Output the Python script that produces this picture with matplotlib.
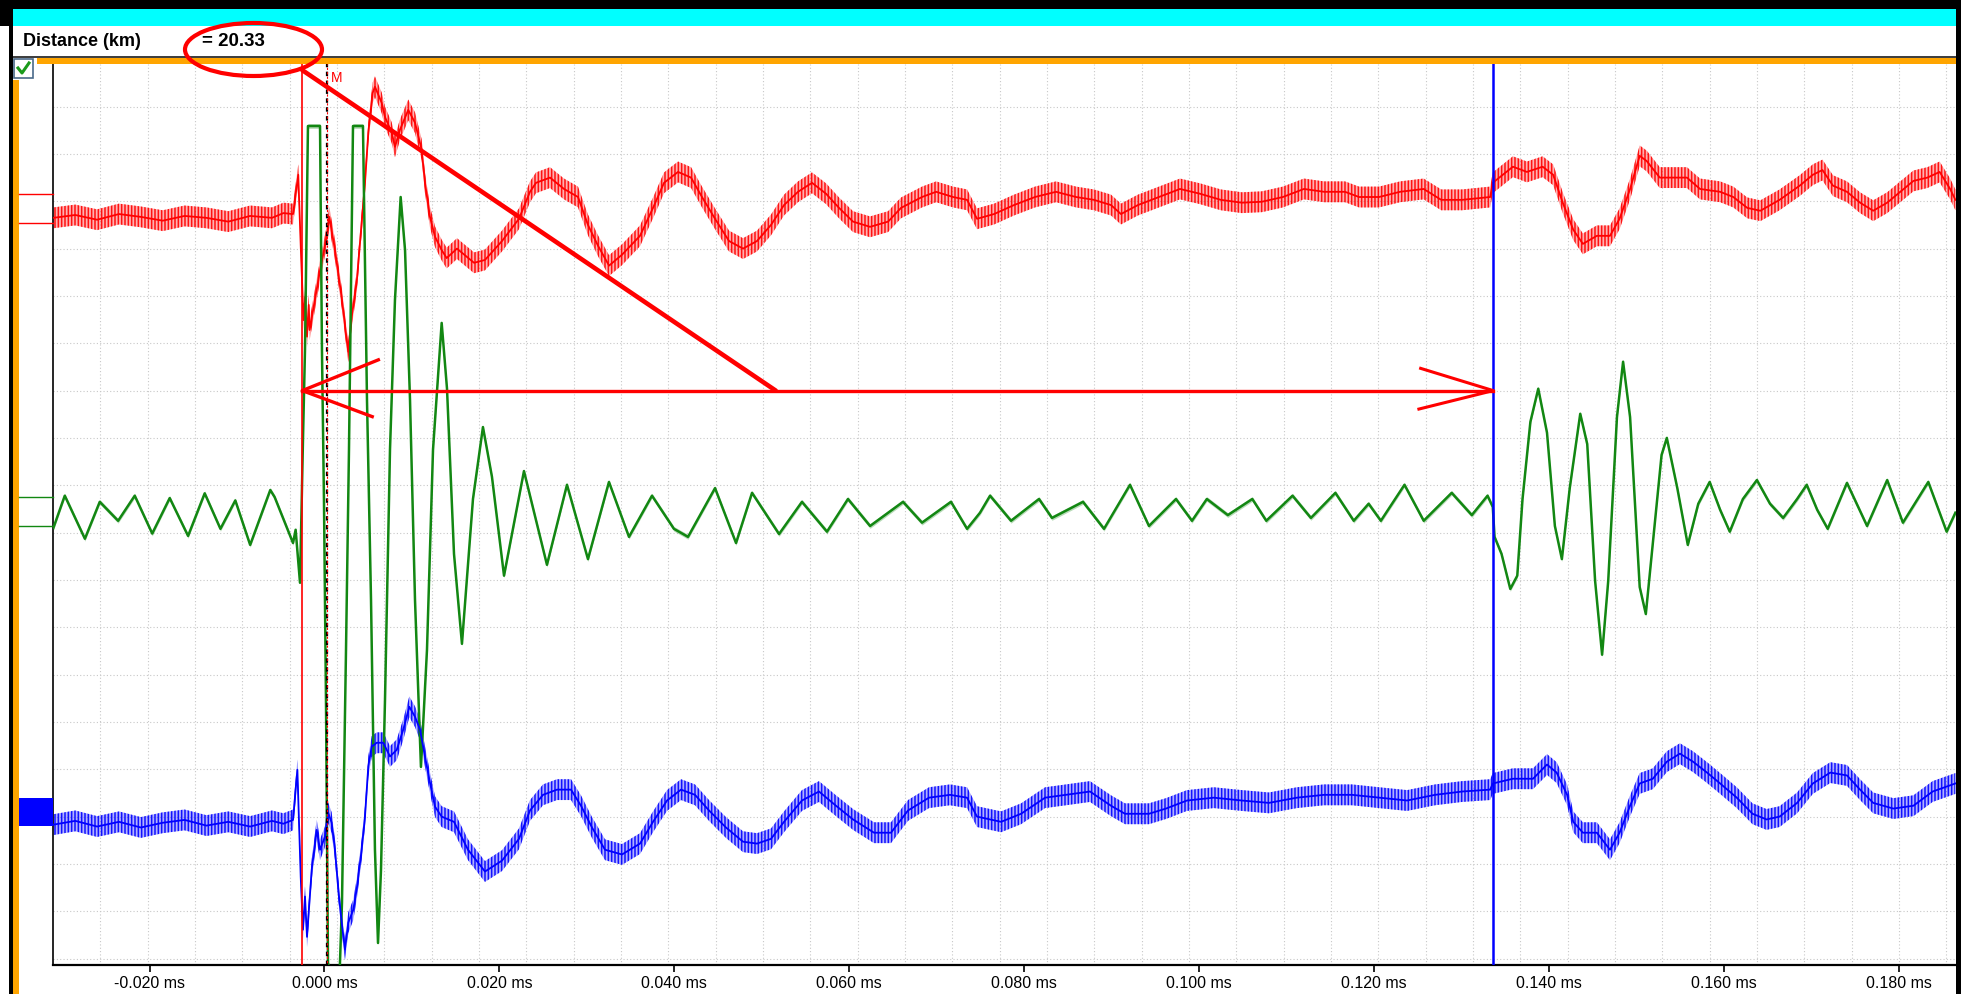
import numpy as np
import matplotlib.pyplot as plt
from matplotlib.patches import Rectangle, Ellipse
from matplotlib.transforms import blended_transform_factory

plt.rcParams['font.family'] = ['Liberation Sans', 'DejaVu Sans']
plt.rcParams['axes.unicode_minus'] = False
plt.rcParams['hatch.linewidth'] = 1.1

# ---------------- data ----------------
distance_km = 20.33
tick_ms = [-0.020, 0.000, 0.020, 0.040, 0.060, 0.080, 0.100, 0.120, 0.140, 0.160, 0.180]

# cursor positions (microseconds)
red_cursor_us = -2.54
blue_cursor_us = 133.65
marker_us = 0.25

# channel traces: time in microseconds, amplitude in grid divisions about the channel baseline
red_t = [-31.0, -28.5, -26.0, -23.5, -21.0, -18.5, -16.0, -13.5, -11.0, -8.5,
         -6.0, -4.7, -3.6, -3.0, -2.7, -2.4, -2.2, -2.0, -1.8, -1.7,
         -0.5, 0.25, 0.55, 1.2, 2.0, 2.54, 2.72, 3.11, 3.68, 4.25,
         4.63, 5.01, 5.51, 5.77, 6.54, 6.92, 7.68, 8.06, 8.63, 9.58,
         10.35, 11.11, 11.49, 12.06, 12.64, 13.40, 13.97, 15.15, 17.10, 18.35,
         20.30, 22.24, 23.50, 24.19, 25.79, 27.39, 28.99, 30.13, 31.28, 32.54,
         34.02, 36.08, 37.57, 38.83, 40.43, 41.92, 43.17, 44.66, 46.26, 47.86,
         49.46, 51.06, 52.55, 54.15, 55.75, 57.35, 58.84, 60.44, 62.39, 64.45,
         65.93, 68.33, 69.94, 71.88, 73.48, 74.62, 76.57, 78.85, 81.25, 83.65,
         85.94, 87.99, 89.94, 91.08, 93.02, 95.43, 97.83, 100.1, 102.5, 104.9,
         107.2, 109.6, 112.0, 114.3, 116.7, 118.3, 120.6, 123.0, 125.7, 127.7,
         130.1, 133.3, 133.6, 135.9, 137.5, 139.3, 140.5, 141.6, 142.8, 143.9,
         145.5, 147.0, 148.1, 149.3, 150.4, 151.2, 152.7, 154.2, 155.8, 157.3,
         159.6, 161.1, 162.7, 164.2, 166.4, 168.7, 170.2, 171.3, 172.5, 174.1,
         175.6, 177.1, 178.7, 180.2, 181.7, 183.3, 184.7, 185.9, 186.5]
red_v = [0.00, 0.06, -0.04, 0.08, 0.02, -0.06, 0.04, 0.00, -0.08, 0.04,
         0.00, 0.10, 0.08, 0.91, -0.68, -2.16, -1.67, -2.51, -1.84, -2.37,
         -1.10, -0.40, 0.02, -0.68, -1.73, -2.58, -2.83, -2.09, -1.37, -0.11,
         0.74, 1.80, 2.64, 2.77, 2.43, 2.13, 1.80, 1.50, 1.86, 2.28,
         2.01, 1.44, 0.74, 0.02, -0.40, -0.68, -0.85, -0.65, -0.95, -0.89,
         -0.49, -0.02, 0.55, 0.74, 0.85, 0.61, 0.44, -0.15, -0.59, -1.01,
         -0.78, -0.38, 0.21, 0.74, 0.97, 0.85, 0.44, -0.02, -0.49, -0.65,
         -0.49, -0.15, 0.27, 0.55, 0.74, 0.51, 0.21, -0.08, -0.19, -0.08,
         0.21, 0.44, 0.55, 0.44, 0.38, -0.02, 0.08, 0.27, 0.44, 0.55,
         0.44, 0.38, 0.27, 0.08, 0.27, 0.44, 0.61, 0.51, 0.38, 0.32,
         0.34, 0.44, 0.61, 0.55, 0.55, 0.44, 0.44, 0.55, 0.61, 0.38,
         0.38, 0.44, 0.74, 1.08, 0.97, 1.08, 0.91, 0.32, -0.25, -0.55,
         -0.38, -0.38, -0.02, 0.61, 1.31, 1.20, 0.85, 0.85, 0.85, 0.61,
         0.55, 0.44, 0.21, 0.15, 0.38, 0.68, 0.91, 1.01, 0.68, 0.55,
         0.32, 0.15, 0.32, 0.55, 0.78, 0.85, 0.97, 0.61, 0.38]

green_t = [-31.0, -29.7, -27.4, -25.7, -23.6, -21.7, -19.7, -17.7, -15.6, -13.7,
           -11.9, -10.2, -8.5, -6.2, -5.7, -4.2, -3.6, -3.3, -2.8, -2.46,
           -2.23, -1.89, -0.51, -0.29, -0.06, 0.17, 0.40, 1.6, 2.00, 2.23,
           2.46, 2.80, 3.26, 4.40, 4.86, 5.32, 5.77, 6.12, 6.46, 6.92,
           7.49, 8.06, 8.71, 9.21, 9.78, 10.35, 11.03, 11.72, 12.41, 13.40,
           14.01, 14.81, 15.72, 16.98, 18.12, 19.15, 20.53, 22.81, 25.44, 27.73,
           30.13, 32.53, 34.82, 37.45, 39.96, 41.57, 44.66, 47.06, 48.89, 51.98,
           54.60, 57.46, 59.86, 62.39, 66.16, 68.33, 71.64, 73.48, 74.96, 76.11,
           78.51, 81.71, 83.19, 86.74, 89.14, 92.11, 94.28, 97.37, 99.20, 100.9,
           103.3, 106.1, 107.7, 110.7, 112.8, 115.6, 117.7, 119.4, 120.8, 123.5,
           125.7, 128.9, 131.2, 133.0, 133.6, 133.8, 134.6, 135.6, 136.4, 137.0,
           137.9, 138.8, 139.8, 140.7, 141.5, 142.4, 143.6, 144.4, 145.3, 146.1,
           146.8, 147.8, 148.5, 149.3, 150.4, 151.1, 151.9, 152.9, 153.5, 154.7,
           155.9, 157.1, 158.4, 159.6, 160.7, 162.2, 163.8, 165.3, 166.8, 168.4,
           169.5, 170.7, 171.9, 174.1, 176.4, 178.7, 180.5, 183.4, 185.5, 186.5]
green_v = [-0.38, 0.30, -0.61, 0.17, -0.23, 0.30, -0.50, 0.25, -0.55, 0.35,
           -0.40, 0.20, -0.74, 0.42, 0.27, -0.42, -0.70, -0.42, -1.54, 1.48,
           3.38, 8.11, 8.11, 3.38, 0.21, -4.02, -9.57, -10.5, -8.30, -5.70,
           -2.96, 1.27, 8.11, 8.11, 2.32, -1.90, -7.18, -9.15, -7.61, -4.01,
           1.27, 4.44, 6.61, 5.49, 2.32, -1.90, -5.43, -2.96, 1.27, 3.95,
           2.56, -0.93, -2.83, 0.23, 1.75, 0.70, -1.39, 0.82, -1.16, 0.53,
           -1.04, 0.59, -0.57, 0.30, -0.40, -0.57, 0.46, -0.70, 0.36, -0.51,
           0.17, -0.46, 0.23, -0.34, 0.17, -0.27, 0.17, -0.40, -0.06, 0.30,
           -0.23, 0.23, -0.17, 0.17, -0.40, 0.53, -0.34, 0.23, -0.23, 0.23,
           -0.11, 0.23, -0.23, 0.30, -0.17, 0.36, -0.23, 0.13, -0.23, 0.53,
           -0.23, 0.36, -0.11, 0.30, 0.06, -0.57, -0.93, -1.67, -1.39, 0.23,
           1.86, 2.56, 1.63, -0.34, -1.04, 0.46, 2.03, 1.39, -1.50, -3.06,
           -1.50, 1.96, 3.13, 1.96, -1.63, -2.20, -0.70, 1.16, 1.52, 0.46,
           -0.74, 0.13, 0.59, 0.00, -0.46, 0.23, 0.63, 0.13, -0.17, 0.23,
           0.53, 0.00, -0.40, 0.57, -0.34, 0.63, -0.27, 0.59, -0.46, -0.06]

blue_t = [-31.0, -28.5, -26.0, -23.5, -21.0, -18.5, -16.0, -13.5, -11.0, -8.5,
          -6.0, -4.7, -3.6, -3.1, -2.72, -2.46, -2.23, -2.0, -1.46, -0.89,
          -0.51, 0.06, 0.43, 0.82, 1.20, 1.58, 1.97, 2.34, 2.72, 3.29,
          3.68, 4.25, 4.63, 5.01, 5.40, 5.97, 6.72, 7.49, 8.26, 9.01,
          9.70, 10.35, 10.92, 11.49, 12.06, 12.64, 13.40, 14.81, 16.41, 18.35,
          20.30, 22.24, 23.50, 24.99, 26.59, 28.19, 29.33, 30.59, 32.08, 34.02,
          36.08, 37.57, 39.17, 40.77, 42.37, 43.97, 45.91, 47.86, 49.46, 51.06,
          52.55, 54.60, 56.55, 58.49, 60.44, 62.84, 64.78, 66.73, 69.13, 71.53,
          73.48, 74.62, 77.37, 79.66, 82.40, 84.80, 87.54, 89.94, 91.54, 94.28,
          96.23, 98.63, 101.7, 104.9, 108.0, 111.2, 114.3, 117.5, 120.6, 123.8,
          127.0, 130.1, 133.3, 133.6, 135.9, 138.2, 139.8, 140.9, 142.1, 142.8,
          143.9, 145.5, 147.0, 148.1, 149.3, 150.4, 151.9, 153.5, 155.0, 156.5,
          158.1, 159.6, 161.5, 163.3, 164.9, 166.4, 168.4, 170.2, 172.2, 174.1,
          175.6, 177.1, 179.4, 181.7, 183.9, 186.5]
blue_v = [0.00, 0.08, -0.04, 0.06, -0.06, 0.04, 0.10, -0.02, 0.06, -0.04,
          0.08, 0.02, 0.10, 1.16, -1.10, -2.22, -1.52, -2.37, -0.95, -0.11,
          -0.53, -0.25, 0.25, 0.04, -0.53, -1.37, -2.07, -2.64, -2.07, -1.80,
          -1.37, -0.53, 0.17, 1.23, 1.65, 1.73, 1.73, 1.44, 1.58, 2.01,
          2.49, 2.28, 2.01, 1.44, 0.89, 0.38, 0.17, 0.06, -0.53, -0.99,
          -0.76, -0.30, 0.30, 0.63, 0.74, 0.74, 0.40, -0.06, -0.53, -0.63,
          -0.40, 0.06, 0.51, 0.74, 0.63, 0.30, -0.06, -0.36, -0.40, -0.30,
          0.06, 0.51, 0.70, 0.40, 0.11, -0.17, -0.17, 0.30, 0.57, 0.63,
          0.57, 0.17, 0.06, 0.23, 0.57, 0.63, 0.70, 0.40, 0.23, 0.23,
          0.34, 0.51, 0.57, 0.51, 0.46, 0.57, 0.63, 0.63, 0.57, 0.51,
          0.63, 0.70, 0.74, 0.87, 0.97, 0.97, 1.27, 1.10, 0.63, 0.06,
          -0.17, -0.17, -0.53, -0.17, 0.40, 0.87, 0.97, 1.33, 1.50, 1.33,
          1.10, 0.87, 0.57, 0.23, 0.11, 0.17, 0.46, 0.87, 1.10, 1.04,
          0.74, 0.46, 0.34, 0.40, 0.70, 0.87]

# half width of the noise band riding on each trace (divisions)
red_noise = 0.22
green_noise = 0.05
blue_noise = 0.22

# ---------------- layout ----------------
W, H = 1961, 994
fig = plt.figure(figsize=(W / 100, H / 100), dpi=100)
fig.patch.set_facecolor('white')


def fx(px):
    return px / W


def fy(py):
    return 1 - py / H


def block(x0, y0, x1, y1, color, z=1):
    fig.add_artist(Rectangle((fx(x0), fy(y1)), fx(x1) - fx(x0), fy(y0) - fy(y1),
                             transform=fig.transFigure, facecolor=color,
                             edgecolor='none', zorder=z))


# window frame
block(0, 0, W, 9, 'black')
block(0, 0, 13, 26, 'black')
block(9, 0, 13, H, 'black')
block(1956, 0, W, H, 'black')
block(13, 9, 1956, 26, '#00ffff')
block(13, 56, 1956, 58, '#404040')
block(37, 58, 1956, 64, '#ffa500')
block(13, 80, 19, H, '#ffa500')

# checkbox
fig.add_artist(Rectangle((fx(14), fy(78)), fx(19), fy(59) - fy(78), transform=fig.transFigure,
                         facecolor='white', edgecolor='#4a6a8a', lw=1.2, zorder=2))
fig.add_artist(plt.Line2D([fx(18), fx(22), fx(29)], [fy(68), fy(73), fy(63)],
                          transform=fig.transFigure, color='#1a9a1a', lw=2.2, zorder=3))

fig.text(fx(23), fy(41), 'Distance (km)', fontsize=13, fontweight='bold', va='center', ha='left')
fig.text(fx(202), fy(41), f'= {distance_km:.2f}', fontsize=13.5, fontweight='bold',
         va='center', ha='left')

# plot area
x_left, x_right = -0.031046, 0.18657
y_bottom, y_top = -0.135, 18.90
ax = fig.add_axes([fx(53), fy(965), fx(1956) - fx(53), fy(64) - fy(965)])
ax.set_xlim(x_left, x_right)
ax.set_ylim(y_bottom, y_top)
ax.set_facecolor('white')

grid_step_ms = 0.0054123
ax.set_xticks(np.arange(x_left, x_right, grid_step_ms)[1:], minor=True)
ax.set_yticks(np.arange(0, 19), minor=True)
ax.set_yticks([])
ax.set_xticks(tick_ms)
ax.set_xticklabels([f'{t:.3f} ms' for t in tick_ms])
ax.grid(False, which='major')
ax.grid(True, which='minor', color='#c8c8c8', lw=0.8, ls=(0, (1, 2)))
ax.set_axisbelow(True)
ax.tick_params(axis='x', which='major', length=5, width=1.2, colors='black', labelsize=11.5, pad=3)
ax.tick_params(axis='x', which='minor', length=0)
ax.tick_params(axis='y', which='both', length=0, labelleft=False)
for s in ('top', 'right'):
    ax.spines[s].set_visible(False)
ax.spines['bottom'].set_linewidth(1.6)
ax.spines['left'].set_linestyle((0, (1, 1)))
ax.spines['left'].set_linewidth(1.2)

# channel traces: a hatched band shows the noise spread, the line shows the trace itself
red_base, green_base, blue_base = 15.65, 9.48, 2.83
channels = [
    (red_t, red_v, red_base, red_noise, (1.0, 0.0, 0.0), '|||||', 1.3),
    (green_t, green_v, green_base, green_noise, (0.07, 0.53, 0.07), None, 1.8),
    (blue_t, blue_v, blue_base, blue_noise, (0.0, 0.0, 1.0), '|||||', 1.3),
]
for t, v, base, nz, col, hatch, lw in channels:
    t = np.asarray(t) / 1000.0
    y = base + np.asarray(v)
    ax.fill_between(t, y - nz, y + nz, facecolor=col + (0.30,), edgecolor=col + (0.9,),
                    hatch=hatch, lw=0, zorder=2)
    ax.plot(t, y, color=col, lw=lw, zorder=3)

# channel markers in the left margin
mtr = blended_transform_factory(fig.transFigure, ax.transData)
for yv, col in ((16.16, '#ff0000'), (15.54, '#ff0000'), (9.75, '#118811'), (9.14, '#118811')):
    fig.add_artist(plt.Line2D([fx(19), fx(53)], [yv, yv], transform=mtr, color=col, lw=1.0))
fig.add_artist(Rectangle((fx(19), 2.80), fx(53) - fx(19), 0.59, transform=mtr,
                         facecolor='#0000ff', edgecolor='none'))

# cursors
red_ms = red_cursor_us / 1000
blue_ms = blue_cursor_us / 1000
marker_ms = marker_us / 1000
ax.axvline(red_ms, color='#ff0000', lw=1.2, zorder=4)
ax.axvline(blue_ms, color='#0000ff', lw=1.8, zorder=4)
ax.axvline(marker_ms, color='black', lw=1.6, ls=(0, (2, 2)), zorder=4)
ax.axvline(marker_ms, color='#ff0000', lw=0.8, ls=(2, (2, 2)), zorder=4)
ax.text(marker_ms + 0.0005, 18.75, 'M', color='#ff0000', fontsize=10, va='top', ha='left', zorder=5)

# distance annotation
arrow_y = 12.0
ax.plot([red_ms, 0.0516], [18.77, arrow_y], color='#ff0000', lw=3.3,
        solid_capstyle='round', clip_on=False, zorder=6)
ax.plot([red_ms, blue_ms], [arrow_y, arrow_y], color='#ff0000', lw=2.4, zorder=6)
ax.plot([red_ms + 0.0087, red_ms, red_ms + 0.0080], [arrow_y + 0.65, arrow_y, arrow_y - 0.55],
        color='#ff0000', lw=2.4, zorder=6)
ax.plot([blue_ms - 0.0083, blue_ms, blue_ms - 0.0085], [arrow_y + 0.47, arrow_y, arrow_y - 0.39],
        color='#ff0000', lw=2.2, zorder=6)
fig.add_artist(Ellipse((fx(253.5), fy(49.5)), 137 / W, 53 / H, transform=fig.transFigure,
                       fill=False, edgecolor='#ff0000', lw=3.0, zorder=6))

fig.savefig('out.png', dpi=100)
